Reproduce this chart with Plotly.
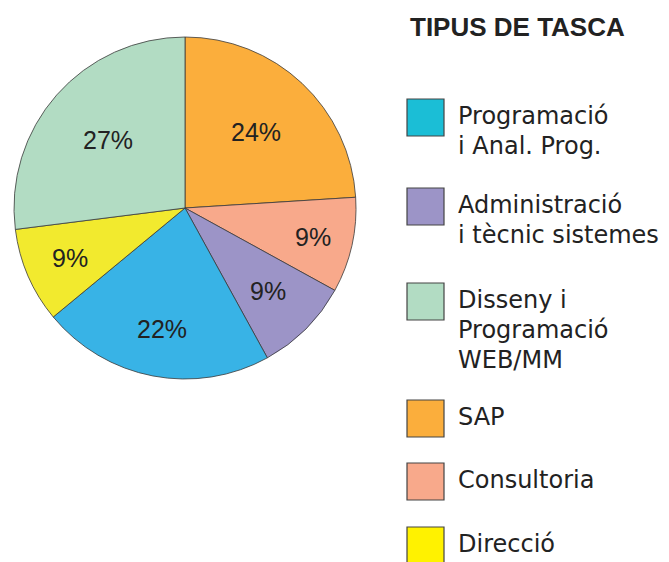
import math
import plotly.graph_objects as go

# ---- data ----
slice_labels = ["SAP", "Consultoria", "Administració i tècnic sistemes",
                "Programació i Anal. Prog.", "Direcció", "Disseny i Programació WEB/MM"]
slice_values = [24, 9, 9, 22, 9, 27]
slice_colors = ["#FBAE3C", "#F8A98B", "#9C94C7", "#38B3E6", "#F2EA2E", "#B2DCC3"]

legend_title = "TIPUS DE TASCA"
legend_lines = [
    ["Programació", "i Anal. Prog."],
    ["Administració", "i tècnic sistemes"],
    ["Disseny i", "Programació", "WEB/MM"],
    ["SAP"],
    ["Consultoria"],
    ["Direcció"],
]
legend_colors = ["#1BBED6", "#9C94C7", "#B2DCC3", "#FBAE3C", "#F8A98B", "#FFF200"]

# style: radial position of each percentage label (fraction of radius)
label_radius_frac = [0.61, 0.77, 0.69, 0.72, 0.73, 0.60]

W, H = 669, 562
CX, CY, R = 185, 208, 171  # pie centre / radius in pixels

fig = go.Figure()
fig.add_trace(go.Pie(
    labels=slice_labels,
    values=slice_values,
    sort=False,
    direction="clockwise",
    rotation=0,
    marker=dict(colors=slice_colors, line=dict(color="#3a3a3a", width=0.8)),
    textinfo="none",
    domain=dict(x=[(CX - R) / W, (CX + R) / W], y=[(H - CY - R) / H, (H - CY + R) / H]),
    showlegend=False,
    hoverinfo="label+percent",
))

annotations = []
# percentage labels placed along each slice's bisector
total = sum(slice_values)
cum = 0
for v, rf in zip(slice_values, label_radius_frac):
    mid = (cum + v / 2) / total * 2 * math.pi
    cum += v
    px = CX + rf * R * math.sin(mid)
    py = CY - rf * R * math.cos(mid)
    annotations.append(dict(
        text=f"{v}%", x=px / W, y=1 - py / H, xref="paper", yref="paper",
        xanchor="center", yanchor="middle", showarrow=False,
        font=dict(family="Liberation Sans, Arial, sans-serif", size=25, color="#222222"),
    ))

# ---- legend (drawn manually) ----
shapes = []
annotations.append(dict(
    text="<b>" + legend_title + "</b>", x=408 / W, y=1 - 27 / H, xref="paper", yref="paper",
    xanchor="left", yanchor="middle", showarrow=False,
    font=dict(family="Liberation Sans, Arial, sans-serif", size=26, color="#222222"),
))
swatch_tops = [99, 188, 283, 400, 463, 527]
for i, (lines, col) in enumerate(zip(legend_lines, legend_colors)):
    top = swatch_tops[i]
    shapes.append(dict(
        type="rect", xref="paper", yref="paper",
        x0=407 / W, x1=444 / W, y0=1 - (top + 37) / H, y1=1 - top / H,
        fillcolor=col, line=dict(color="#444444", width=1.2),
    ))
    for j, ln in enumerate(lines):
        ymid = top + 17 + j * 30
        annotations.append(dict(
            text=ln, x=456 / W, y=1 - ymid / H, xref="paper", yref="paper",
            xanchor="left", yanchor="middle", showarrow=False,
            font=dict(family="DejaVu Sans, sans-serif", size=24, color="#222222"),
        ))

fig.update_layout(
    width=W, height=H,
    margin=dict(l=0, r=0, t=0, b=0),
    paper_bgcolor="white",
    plot_bgcolor="white",
    shapes=shapes,
    annotations=annotations,
)

fig.write_html("out.html", post_script="document.body.style.margin='0';",
               config={"displayModeBar": False})
